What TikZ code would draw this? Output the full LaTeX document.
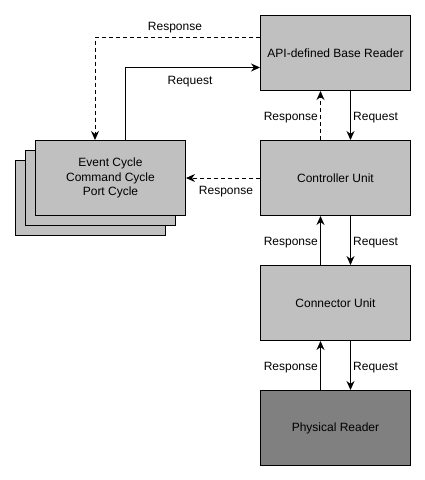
\documentclass[tikz,border=0pt]{standalone}
\usepackage{fontspec}
\setmainfont{Liberation Sans}
\usetikzlibrary{arrows.meta}
\begin{document}
\begin{tikzpicture}[x=1pt,y=-1pt,
  box/.style={draw=black,line width=1pt,fill=boxgray,minimum width=150pt,minimum height=75pt,inner sep=0pt,align=center,font=\fontsize{12}{14.5}\selectfont},
  lbl/.style={font=\fontsize{12}{14}\selectfont,inner sep=1pt},
  conn/.style={line width=1pt,-{Stealth[length=9pt,width=8pt,inset=3pt]}},
  dashconn/.style={conn,dash pattern=on 4pt off 3pt}]
\definecolor{boxgray}{HTML}{C0C0C0}
\definecolor{darkgray}{HTML}{808080}
\useasboundingbox (0,0) rectangle (425,480);
% stack
\node[box,anchor=north west,text opacity=0] (back) at (15,160) {};
\node[box,anchor=north west] (mid) at (25,150) {};
\node[box,anchor=north west] (stack) at (35,140) {Event Cycle\\Command Cycle\\Port Cycle};
% main boxes
\node[box,anchor=north west] (api) at (260,15) {API-defined Base Reader};
\node[box,anchor=north west] (ctrl) at (260,140) {Controller Unit};
\node[box,anchor=north west] (conu) at (260,265) {Connector Unit};
\node[box,anchor=north west,fill=darkgray] (phys) at (260,390) {Physical Reader};
% coordinates
\coordinate (c1) at (95,37.5);
\coordinate (c2) at (125,67.5);
% API <-> stack
\draw[dashconn] (api.west |- c1) -| (stack.north -| c1);
\draw[conn] (stack.north -| c2) |- (api.west |- c2);
\node[lbl] (l1) at (175,28) {Response};
\node[lbl] (l2) at (190,82) {Request};
% ctrl -> stack
\draw[dashconn] (ctrl.west) -- (stack.east);
\node[lbl] (l3) at (226,192) {Response};
% vertical links
\foreach \a/\b/\y/\st in {ctrl/api/118/dashconn, conu/ctrl/243/conn, phys/conu/368/conn}{
  \draw[\st] ([xshift=-15pt]\a.north) -- ([xshift=-15pt]\b.south);
  \draw[conn] ([xshift=15pt]\b.south) -- ([xshift=15pt]\a.north);
  \node[lbl,anchor=east] at (319,\y) {Response};
  \node[lbl,anchor=west] at (352,\y) {Request};
}
\end{tikzpicture}
\end{document}
